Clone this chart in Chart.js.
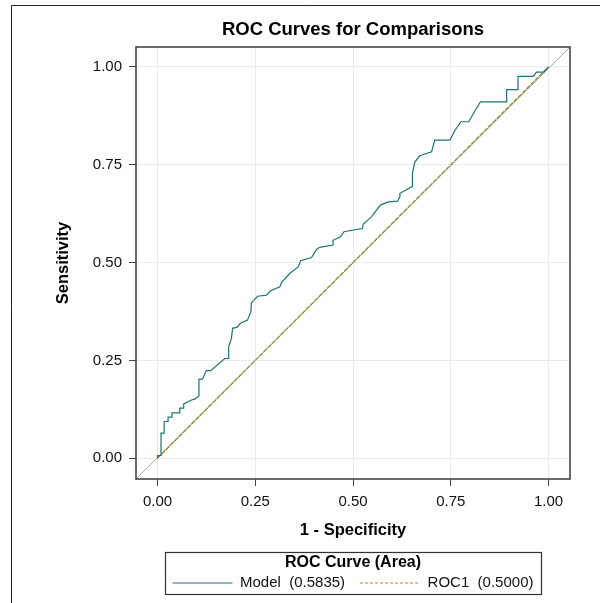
<!DOCTYPE html>
<html>
<head>
<meta charset="utf-8">
<title>ROC Curves for Comparisons</title>
<script src="https://cdn.jsdelivr.net/npm/chart.js@4.4.1/dist/chart.umd.min.js"></script>
<style>
  html, body { margin: 0; padding: 0; background: #fff; }
  #wrap { width: 600px; height: 603px; }
</style>
</head>
<body>
<div id="wrap"><canvas id="rocChart" width="600" height="603"></canvas></div>
<script>
// ROC 曲线的点 (x = 1 - specificity, y = sensitivity)
const modelFpr = [0, 0, 0.009, 0.009, 0.017, 0.017, 0.027, 0.027, 0.037, 0.037,
    0.057, 0.057, 0.067, 0.067, 0.087, 0.095, 0.106, 0.106, 0.115, 0.125,
    0.136, 0.172, 0.182, 0.182, 0.189, 0.192, 0.204, 0.212, 0.230, 0.239,
    0.240, 0.256, 0.279, 0.289, 0.313, 0.317, 0.338, 0.360, 0.366, 0.394,
    0.407, 0.415, 0.449, 0.449, 0.468, 0.477, 0.524, 0.526, 0.547, 0.570,
    0.590, 0.614, 0.620, 0.620, 0.651, 0.652, 0.658, 0.671, 0.701, 0.709,
    0.748, 0.760, 0.776, 0.796, 0.812, 0.826, 0.893, 0.893, 0.922, 0.922,
    0.961, 0.969, 0.988, 1.0];
const modelTpr = [0, 0.007, 0.007, 0.064, 0.064, 0.094, 0.094, 0.105, 0.105, 0.116,
    0.116, 0.128, 0.128, 0.139, 0.149, 0.151, 0.160, 0.202, 0.202, 0.224,
    0.224, 0.255, 0.255, 0.285, 0.306, 0.332, 0.335, 0.345, 0.353, 0.374,
    0.397, 0.414, 0.417, 0.428, 0.438, 0.449, 0.472, 0.489, 0.505, 0.513,
    0.534, 0.539, 0.545, 0.557, 0.566, 0.579, 0.587, 0.598, 0.617, 0.647,
    0.655, 0.657, 0.668, 0.677, 0.694, 0.728, 0.757, 0.773, 0.783, 0.813,
    0.813, 0.837, 0.860, 0.860, 0.888, 0.911, 0.911, 0.942, 0.942, 0.976,
    0.976, 0.987, 0.987, 1.0];
const roc1Fpr = [0, 1];
const roc1Tpr = [0, 1];

const seriesNames = ["Model", "ROC1"];
const aucValues = [0.5835, 0.5000];
const tickValues = [0, 0.25, 0.5, 0.75, 1];
const xRange = [-0.055, 1.055];
const yRange = [-0.053, 1.051];

const toPoints = (xs, ys) => xs.map((x, i) => ({ x: x, y: ys[i] }));

// 图框、图例框和外边线
const framePlugin = {
    id: "framePlugin",
    afterDraw(chart) {
        const ctx = chart.ctx;
        const a = chart.chartArea;
        ctx.save();
        ctx.strokeStyle = "#3a3a3a";
        ctx.lineWidth = 1.5;
        ctx.strokeRect(a.left, a.top, a.right - a.left, a.bottom - a.top);

        const boxes = chart.legend.legendHitBoxes;
        if (boxes && boxes.length) {
            const left = Math.min(...boxes.map(b => b.left)) - 8;
            const right = Math.max(...boxes.map(b => b.left + b.width)) + 7;
            const bottom = Math.max(...boxes.map(b => b.top + b.height)) + 3.5;
            ctx.lineWidth = 1.2;
            ctx.strokeStyle = "#333";
            ctx.strokeRect(Math.round(left) + 0.5, Math.round(chart.legend.top) + 0.5,
                Math.round(right - left), Math.round(bottom - chart.legend.top));
        }

        ctx.lineWidth = 1;
        ctx.strokeStyle = "#222";
        ctx.beginPath();
        ctx.moveTo(11.5, chart.height);
        ctx.lineTo(11.5, 5.5);
        ctx.lineTo(chart.width, 5.5);
        ctx.stroke();
        ctx.restore();
    }
};

Chart.defaults.font.family = "'Liberation Sans', Arial, sans-serif";
Chart.defaults.color = "#111";

const axisStyle = (range, titleText, titlePadding) => ({
    type: "linear",
    min: range[0],
    max: range[1],
    border: { display: false },
    grid: { color: "#ebebeb", lineWidth: 1, drawTicks: true, tickLength: 7, tickColor: "#444", tickWidth: 1 },
    ticks: { font: { size: 15 }, color: "#111", padding: 7, callback: v => v.toFixed(2) },
    afterBuildTicks: scale => { scale.ticks = tickValues.map(v => ({ value: v })); },
    title: { display: true, text: titleText, font: { size: 16.5, weight: "bold" }, color: "#000", padding: titlePadding }
});

const xAxis = axisStyle(xRange, "1 - Specificity", { top: 0, bottom: 12 });
xAxis.position = "bottom";
xAxis.afterFit = scale => { scale.height = 73; };
const yAxis = axisStyle(yRange, "Sensitivity", { top: 54, bottom: 0 });
yAxis.position = "left";
yAxis.afterFit = scale => { scale.width = 136; };

// 图例里 ROC1 用细虚线
const legendDash = [[], [3, 2]];

const ctx = document.getElementById("rocChart").getContext("2d");
const chart = new Chart(ctx, {
    type: "scatter",
    data: {
        datasets: [
            {
                label: seriesNames[0] + "  (" + aucValues[0].toFixed(4) + ")",
                data: toPoints(modelFpr, modelTpr),
                showLine: true, borderColor: "#1c7373", backgroundColor: "#1c7373",
                borderWidth: 1.2, pointRadius: 0, tension: 0
            },
            {
                label: seriesNames[1] + "  (" + aucValues[1].toFixed(4) + ")",
                data: toPoints(roc1Fpr, roc1Tpr),
                showLine: true, borderColor: "#9e8a2a", backgroundColor: "#9e8a2a",
                borderWidth: 1.3, borderDash: [5, 1], pointRadius: 0, tension: 0
            },
            {
                label: "diagonal",
                data: [{ x: xRange[0], y: yRange[0] }, { x: xRange[1], y: yRange[1] }],
                showLine: true, borderColor: "#a8a8a8", borderWidth: 1, pointRadius: 0
            }
        ]
    },
    options: {
        responsive: false,
        animation: false,
        devicePixelRatio: 1,
        layout: { padding: { left: 0, right: 30, top: 0, bottom: 2.5 } },
        scales: { x: xAxis, y: yAxis },
        plugins: {
            tooltip: { enabled: false },
            title: {
                display: true, fullSize: false,
                text: "ROC Curves for Comparisons",
                font: { size: 18.5, weight: "bold" }, color: "#000",
                padding: { top: 19, bottom: 5.8 }
            },
            legend: {
                position: "bottom", fullSize: false,
                title: {
                    display: true, text: "ROC Curve (Area)",
                    font: { size: 16, weight: "bold" }, color: "#000",
                    padding: { top: 3, bottom: -13.7 }
                },
                labels: {
                    usePointStyle: true, pointStyle: "line", pointStyleWidth: 60,
                    font: { size: 15 }, color: "#111", padding: 15,
                    filter: item => item.datasetIndex < 2,
                    generateLabels: c => Chart.defaults.plugins.legend.labels.generateLabels(c)
                        .map(item => Object.assign(item, { lineDash: legendDash[item.datasetIndex] || [], lineWidth: 1 }))
                }
            }
        }
    },
    plugins: [framePlugin]
});
</script>
</body>
</html>
